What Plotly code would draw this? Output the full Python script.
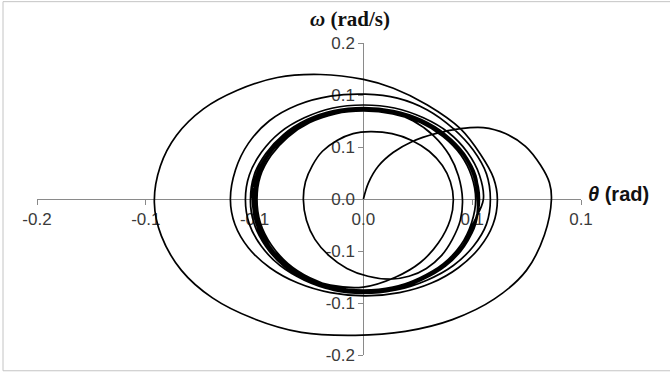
import plotly.graph_objects as go

# ---- Phase-portrait points (theta in rad, omega in rad/s) ----
# start at rest and first large swings
theta_start = [0, 0.0031, 0.0092, 0.0184, 0.0300, 0.0441, 0.0594, 0.0735, 0.0870, 0.0993, 0.1085, 0.1140, 0.1152,
               0.1109, 0.0999, 0.0803, 0.0545, 0.0257, -0.0049,
               -0.0380, -0.0674, -0.0925, -0.1115, -0.1238, -0.1281,
               -0.1244, -0.1146, -0.0980, -0.0772, -0.0527, -0.0263,
               0, 0.0184, 0.0392, 0.0594, 0.0717, 0.0797, 0.0821]
omega_start = [0, 0.0208, 0.0423, 0.0599, 0.0738, 0.0839, 0.0902, 0.0915, 0.0839, 0.0675, 0.0435, 0.0208, -0.0006,
               -0.0461, -0.0915, -0.1281, -0.1546, -0.1697, -0.1748,
               -0.1710, -0.1533, -0.1268, -0.0915, -0.0473, -0.0044,
               0.0423, 0.0814, 0.1155, 0.1394, 0.1558, 0.1596,
               0.1533, 0.1420, 0.1205, 0.0902, 0.0574, 0.0271, -0.0006]

# decaying loops toward the steady band
theta_decay = [0.0794, 0.0711, 0.0582, 0.0417, 0.0221, 0.0012, -0.0202, -0.0401, -0.0573, -0.0705, -0.0787, -0.0815,
               -0.0784, -0.0705, -0.0576, -0.0404, -0.0202, 0.0012, 0.0208, 0.0392, 0.0551, 0.0674, 0.0754, 0.0778,
               0.0754, 0.0674, 0.0551, 0.0389, 0.0202, 0, -0.0187, -0.0362, -0.0512, -0.0625, -0.0699, -0.0723,
               -0.0699, -0.0625, -0.0512, -0.0362, -0.0187, 0, 0.0190, 0.0368, 0.0521, 0.0637, 0.0711, 0.0735]
omega_decay = [-0.0327, -0.0625, -0.0881, -0.1078, -0.1201, -0.1243, -0.1201, -0.1078, -0.0881, -0.0625, -0.0327, -0.0006,
               0.0372, 0.0713, 0.1003, 0.1205, 0.1319, 0.1344, 0.1293, 0.1142, 0.0902, 0.0625, 0.0322, -0.0006,
               -0.0322, -0.0606, -0.0852, -0.1041, -0.1167, -0.1205, -0.1167, -0.1041, -0.0852, -0.0606, -0.0322, -0.0006,
               0.0309, 0.0599, 0.0852, 0.1041, 0.1167, 0.1205, 0.1167, 0.1041, 0.0852, 0.0599, 0.0309, -0.0006]

# band loops, excursion to the small inner loop, and back to the band
theta_band = [0.0674, 0.0607, 0.0496, 0.0349, 0.0181, 0, -0.0178, -0.0340, -0.0481, -0.0588, -0.0659, -0.0680,
              -0.0670, -0.0598, -0.0490, -0.0346, -0.0181, 0, 0.0184, 0.0355, 0.0505, 0.0618, 0.0686, 0.0711,
              0.0686, 0.0618, 0.0505, 0.0355, 0.0184, 0, -0.0181, -0.0346, -0.0490, -0.0598, -0.0670, -0.0692,
              -0.0659, -0.0588, -0.0481, -0.0340, -0.0178, 0, 0.0157, 0.0303, 0.0429, 0.0527, 0.0582, 0.0607,
              0.0594, 0.0545, 0.0478, 0.0386, 0.0279, 0.0165, 0.0028, -0.0101, -0.0211, -0.0297, -0.0349, -0.0368,
              -0.0355, -0.0313, -0.0251, -0.0162, -0.0063, 0.0043, 0.0175, 0.0297, 0.0403, 0.0484, 0.0533, 0.0551,
              0.0533, 0.0460, 0.0349, 0.0196, 0, -0.0202, -0.0386, -0.0527, -0.0619, -0.0662, -0.0668,
              -0.0649, -0.0579, -0.0473, -0.0335, -0.0175, 0, 0.0178, 0.0343, 0.0488, 0.0597, 0.0663, 0.0688,
              0.0663, 0.0597, 0.0488, 0.0343, 0.0178, 0, -0.0175, -0.0335, -0.0473, -0.0579, -0.0649, -0.0670,
              -0.0659, -0.0588, -0.0481, -0.0340, -0.0178, 0, 0.0181, 0.0349, 0.0496, 0.0607, 0.0674, 0.0699,
              0.0686, 0.0618, 0.0505, 0.0355, 0.0184, 0, -0.0181, -0.0346, -0.0490, -0.0598, -0.0670, -0.0692,
              -0.0670, -0.0598, -0.0490, -0.0346, -0.0181, 0, 0.0184, 0.0355, 0.0505, 0.0618, 0.0686, 0.0711,
              0.0680, 0.0612, 0.0500, 0.0350, 0.0180, 0, -0.0172, -0.0328, -0.0462, -0.0565, -0.0632, -0.0652,
              -0.0632, -0.0565, -0.0462, -0.0328, -0.0172, 0, 0.0180, 0.0350, 0.0500, 0.0612, 0.0680, 0.0702,
              0.0690, 0.0620, 0.0505, 0.0352, 0.0182, 0, -0.0176, -0.0336, -0.0470, -0.0575, -0.0642, -0.0662,
              -0.0642, -0.0575, -0.0470, -0.0336, -0.0176, 0, 0.0182, 0.0352, 0.0505, 0.0620, 0.0690, 0.0705]
omega_band = [-0.0309, -0.0599, -0.0845, -0.1028, -0.1155, -0.1192, -0.1155, -0.1028, -0.0845, -0.0599, -0.0309, -0.0006,
              0.0302, 0.0583, 0.0826, 0.1018, 0.1134, 0.1172, 0.1134, 0.1018, 0.0826, 0.0583, 0.0302, -0.0006,
              -0.0314, -0.0608, -0.0858, -0.1043, -0.1172, -0.1210, -0.1172, -0.1043, -0.0858, -0.0608, -0.0314, -0.0006,
              0.0297, 0.0574, 0.0814, 0.1003, 0.1117, 0.1155, 0.1117, 0.1003, 0.0814, 0.0561, 0.0297, -0.0006,
              -0.0271, -0.0517, -0.0726, -0.0890, -0.0991, -0.1028, -0.0991, -0.0890, -0.0726, -0.0517, -0.0271, -0.0006,
              0.0221, 0.0429, 0.0612, 0.0751, 0.0839, 0.0864, 0.0839, 0.0751, 0.0612, 0.0429, 0.0221, -0.0006,
              -0.0259, -0.0562, -0.0814, -0.1003, -0.1129, -0.1104, -0.0978, -0.0776, -0.0524, -0.0259, -0.0006,
              0.0292, 0.0565, 0.0801, 0.0988, 0.1100, 0.1137, 0.1100, 0.0988, 0.0801, 0.0565, 0.0292, -0.0006,
              -0.0304, -0.0590, -0.0832, -0.1012, -0.1137, -0.1174, -0.1137, -0.1012, -0.0832, -0.0590, -0.0304, -0.0006,
              0.0297, 0.0574, 0.0814, 0.1003, 0.1117, 0.1155, 0.1117, 0.1003, 0.0814, 0.0574, 0.0297, -0.0006,
              -0.0314, -0.0608, -0.0858, -0.1043, -0.1172, -0.1210, -0.1172, -0.1043, -0.0858, -0.0608, -0.0314, -0.0006,
              0.0302, 0.0583, 0.0826, 0.1018, 0.1134, 0.1172, 0.1134, 0.1018, 0.0826, 0.0583, 0.0302, -0.0006,
              -0.0300, -0.0585, -0.0828, -0.1010, -0.1130, -0.1168, -0.1130, -0.1010, -0.0828, -0.0585, -0.0300, -0.0006,
              0.0290, 0.0560, 0.0795, 0.0980, 0.1092, 0.1128, 0.1092, 0.0980, 0.0795, 0.0560, 0.0290, -0.0006,
              -0.0306, -0.0595, -0.0840, -0.1025, -0.1150, -0.1188, -0.1150, -0.1025, -0.0840, -0.0595, -0.0306, -0.0006,
              0.0295, 0.0570, 0.0808, 0.0995, 0.1110, 0.1148, 0.1110, 0.0995, 0.0808, 0.0570, 0.0295, -0.0006]

# axis ticks (Excel-style labels rounded to one decimal)
x_tickvals = [-0.2, -0.13333, -0.06667, 0, 0.06667, 0.13333]
x_ticktext = ["-0.2", "-0.1", "-0.1", "0.0", "0.1", "0.1"]
y_tickvals = [-0.2, -0.13333, -0.06667, 0, 0.06667, 0.13333, 0.2]
y_ticktext = ["-0.2", "-0.1", "-0.1", "0.0", "0.1", "0.1", "0.2"]

theta = theta_start + theta_decay + theta_band
omega = omega_start + omega_decay + omega_band

fig = go.Figure()
fig.add_trace(go.Scatter(
    x=theta, y=omega, mode="lines",
    line=dict(color="black", width=1.7, shape="spline", smoothing=1.0),
    showlegend=False, hoverinfo="skip",
))

axis_font = dict(family="Liberation Sans, Arial, sans-serif", size=17, color="#3a3a3a")

fig.update_layout(
    width=670, height=377,
    margin=dict(l=37, r=89, t=43, b=17),
    paper_bgcolor="white", plot_bgcolor="white",
    xaxis=dict(
        range=[-0.2, 0.13333], domain=[0, 1], anchor="free", position=0.5,
        showline=True, linecolor="#8a8a8a", linewidth=1,
        ticks="outside", ticklen=5, tickcolor="#8a8a8a", tickwidth=1,
        tickvals=x_tickvals, ticktext=x_ticktext, tickfont=axis_font,
        showgrid=False, zeroline=False, layer="below traces", fixedrange=True,
    ),
    yaxis=dict(
        range=[-0.2, 0.2], domain=[0, 1], anchor="free", position=0.6, side="left",
        showline=True, linecolor="#8a8a8a", linewidth=1,
        ticks="outside", ticklen=5, tickcolor="#8a8a8a", tickwidth=1,
        tickvals=y_tickvals, ticktext=y_ticktext, tickfont=axis_font,
        showgrid=False, zeroline=False, layer="below traces", fixedrange=True,
    ),
    shapes=[dict(
        type="rect", xref="paper", yref="paper",
        x0=-0.0625, x1=1.17, y0=-0.0505, y1=1.1325,
        line=dict(color="#c4c4c4", width=1), fillcolor="rgba(0,0,0,0)", layer="below",
    )],
    annotations=[
        dict(text="<b><i>ω</i> (rad/s)</b>", xref="paper", yref="paper",
             x=0.575, y=1.076, showarrow=False, xanchor="center", yanchor="middle",
             font=dict(family="Liberation Serif, Times New Roman, serif", size=21, color="#111")),
        dict(text="<b><i>θ</i> (rad)</b>", xref="paper", yref="paper",
             x=1.009, y=0.517, showarrow=False, xanchor="left", yanchor="middle",
             font=dict(family="Liberation Sans, Arial, sans-serif", size=20, color="#111")),
    ],
)

fig.write_html("out.html", config={"displayModeBar": False},
               post_script="document.body.style.margin='0px';")
